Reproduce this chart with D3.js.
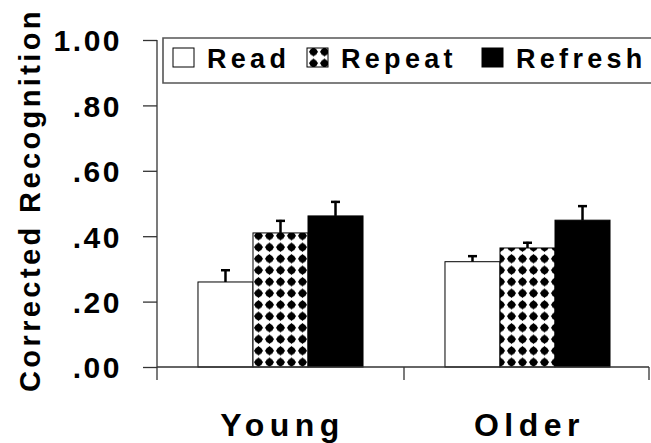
<!DOCTYPE html>
<html><head><meta charset="utf-8">
<script src="https://cdn.jsdelivr.net/npm/d3@7"></script>
<style>body{margin:0;background:#fff}svg{display:block}text{font-family:"Liberation Sans",Arial,sans-serif;font-weight:bold;fill:#000}</style>
</head><body>
<script>
const categories = ["Young", "Older"];
const series = ["Read", "Repeat", "Refresh"];
const youngMeans = [0.26, 0.41, 0.462];
const youngErrors = [0.039, 0.04, 0.046];
const olderMeans = [0.322, 0.364, 0.449];
const olderErrors = [0.02, 0.019, 0.046];
const yTicks = [0, 0.2, 0.4, 0.6, 0.8, 1.0];
const yTickLabels = [".00", ".20", ".40", ".60", ".80", "1.00"];
const yTitle = "Corrected Recognition";

const W = 651, H = 443;
const svg = d3.select("body").append("svg").attr("width", W).attr("height", H);

const defs = svg.append("defs");
const pat = defs.append("pattern").attr("id", "checker").attr("patternUnits", "userSpaceOnUse")
  .attr("width", 11).attr("height", 11.5);
pat.append("rect").attr("width", 11).attr("height", 11.5).attr("fill", "#fff");
pat.append("path").attr("d", "M5.5,0.9 L10.2,5.75 L5.5,10.6 L0.8,5.75 Z").attr("fill", "#000");
pat.append("circle").attr("cx", 5.5).attr("cy", 5.75).attr("r", 3.7).attr("fill", "#000");

const fills = { Read: "#fff", Repeat: "url(#checker)", Refresh: "#000" };

const y = d3.scaleLinear().domain([0, 1]).range([367, 40]);
const x0 = d3.scaleBand().domain(categories).range([157, 651]).paddingInner(0).paddingOuter(0);
const x1 = d3.scaleBand().domain(series).range([0, x0.bandwidth()]).paddingInner(0).paddingOuter(0.745);

const rows = categories.map((c, i) => {
  const m = i === 0 ? youngMeans : olderMeans;
  const e = i === 0 ? youngErrors : olderErrors;
  return series.map((s, j) => ({ cat: c, s, v: m[j], e: e[j] }));
}).flat();

// bars
svg.append("g").selectAll("rect").data(rows).join("rect")
  .attr("x", d => x0(d.cat) + x1(d.s))
  .attr("y", d => y(d.v))
  .attr("width", x1.bandwidth())
  .attr("height", d => y(0) - y(d.v))
  .attr("fill", d => fills[d.s])
  .attr("stroke", "#000").attr("stroke-width", 1);

// error bars
const eg = svg.append("g").attr("stroke", "#000").attr("stroke-width", 2.5);
rows.forEach(d => {
  const cx = x0(d.cat) + x1(d.s) + x1.bandwidth() / 2;
  eg.append("line").attr("x1", cx).attr("x2", cx).attr("y1", y(d.v)).attr("y2", y(d.v + d.e));
  eg.append("line").attr("x1", cx - 4.5).attr("x2", cx + 4.5).attr("y1", y(d.v + d.e) + 1).attr("y2", y(d.v + d.e) + 1);
});

// y axis
const yAxis = d3.axisLeft(y).tickValues(yTicks).tickFormat((d, i) => yTickLabels[i]).tickSize(14).tickPadding(23);
const ya = svg.append("g").attr("transform", "translate(157,0)").call(yAxis);
ya.select(".domain").attr("stroke", "#333").attr("stroke-width", 1.3).attr("d", "M0,40V367");
ya.selectAll(".tick line").attr("stroke", "#333").attr("stroke-width", 1.3);
ya.selectAll(".tick text").style("font-size", "30px").style("letter-spacing", "2.5px").attr("dy", "0.36em").attr("x", -35);

// x axis
const xa = svg.append("g");
xa.append("line").attr("x1", 157).attr("x2", 649).attr("y1", 367).attr("y2", 367).attr("stroke", "#333").attr("stroke-width", 1.3);
const bounds = [x0(categories[0]), x0(categories[1]), 649];
bounds.forEach(b => xa.append("line").attr("x1", b).attr("x2", b).attr("y1", 367).attr("y2", 380).attr("stroke", "#333").attr("stroke-width", 1.3));
xa.selectAll("text.cat").data(categories).join("text").attr("class", "cat")
  .attr("x", d => x0(d) + x0.bandwidth() / 2 + 2)
  .attr("y", 436).attr("text-anchor", "middle")
  .style("font-size", "32px").style("letter-spacing", "5.5px")
  .text(d => d);

// y title
svg.append("text").attr("transform", "translate(40,200) rotate(-90)")
  .attr("text-anchor", "middle").style("font-size", "29px").style("letter-spacing", "3.4px")
  .text(yTitle);

// legend
const lg = svg.append("g");
lg.append("path").attr("d", "M655,38H163V83H655").attr("fill", "#fff").attr("stroke", "#555").attr("stroke-width", 1.6);
const legX = [173, 307, 482];
series.forEach((s, i) => {
  lg.append("rect").attr("x", legX[i]).attr("y", 48).attr("width", 21).attr("height", 19)
    .attr("fill", fills[s]).attr("stroke", "#000").attr("stroke-width", 1);
  lg.append("text").attr("x", legX[i] + 34).attr("y", 68).style("font-size", "27px").style("letter-spacing", "4.3px").text(s);
});
</script>
</body></html>
